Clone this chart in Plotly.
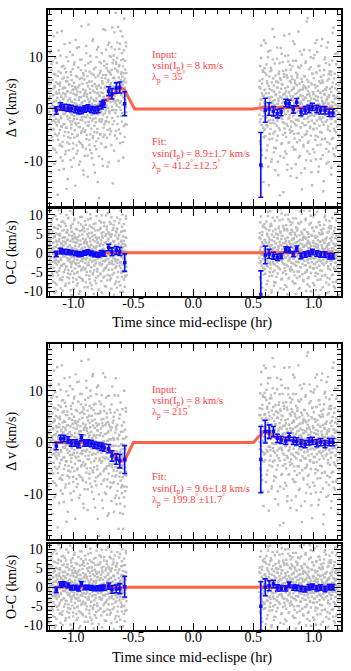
import numpy as np
import plotly.graph_objects as go

# ---- binned points (time in hr since mid-eclipse, velocities in km/s) ----
bin_t_pre = [-1.142, -1.105, -1.078, -1.044, -1.017, -0.983, -0.955, -0.933, -0.905, -0.878,
             -0.850, -0.822, -0.794, -0.767, -0.744, -0.705, -0.678, -0.642, -0.613, -0.572]
bin_t_post = [0.562, 0.599, 0.631, 0.667, 0.700, 0.731, 0.770, 0.798, 0.833, 0.861,
              0.897, 0.931, 0.964, 0.992, 1.028, 1.061, 1.097, 1.131, 1.162]

# case 1 (lambda = 35 deg)
dv1_pre = [-0.3, 0.5, 0.3, 0.2, 0.1, -0.1, -0.3, -0.3, 0.0, 0.2,
           -0.1, -0.25, -0.1, 0.7, 1.0, 3.4, 2.9, 4.0, 4.1, 1.0]
err1_pre = [0.7, 0.7, 0.6, 0.6, 0.6, 0.6, 0.6, 0.6, 0.6, 0.6,
            0.6, 0.6, 0.6, 0.7, 0.7, 0.85, 1.0, 1.0, 1.05, 2.3]
dv1_post = [-10.7, -0.25, 0.0, -0.45, -0.9, -0.6, 1.15, 1.0, -0.1, 1.3,
            -0.6, -0.25, 0.0, 0.4, 0.0, -0.25, -0.25, -0.75, -0.75]
err1_post = [6.2, 2.3, 1.2, 0.9, 0.8, 0.7, 0.7, 0.7, 0.7, 0.7,
             0.7, 0.7, 0.7, 0.7, 0.7, 0.7, 0.7, 0.7, 0.7]
model1_t = [-1.15, -0.85, -0.82, -0.79, -0.76, -0.73, -0.70, -0.67, -0.64, -0.61, -0.59, -0.575,
            -0.49, 0.49, 0.52, 0.55, 0.58, 0.65, 0.80, 1.00, 1.165]
model1_v = [0.0, 0.05, 0.2, 0.5, 0.9, 1.5, 2.1, 2.8, 3.4, 3.8, 3.9, 3.7,
            0.0, 0.0, 0.1, 0.2, 0.3, 0.3, 0.25, 0.2, 0.15]

# case 2 (lambda = 215 deg)
dv2_pre = [-0.7, 0.7, 0.8, 0.5, -0.1, -0.1, -0.4, 0.9, -0.1, -0.1,
           -0.2, -0.5, -0.6, -0.8, -1.0, -1.2, -2.6, -3.2, -3.6, -3.3]
err2_pre = [0.7, 0.7, 0.6, 0.6, 0.6, 0.6, 0.6, 0.6, 0.6, 0.6,
            0.6, 0.6, 0.6, 0.7, 0.7, 0.8, 1.0, 1.0, 1.3, 2.7]
dv2_post = [-3.3, 2.1, 2.1, 2.1, 0.8, 0.5, 0.3, 1.1, 0.3, 0.2,
            -0.13, -0.33, 0.2, 0.3, -0.13, 0.06, -0.33, 0.06, 0.06]
err2_post = [6.4, 2.2, 1.3, 1.0, 0.8, 0.7, 0.7, 0.7, 0.7, 0.7,
             0.7, 0.7, 0.7, 0.7, 0.7, 0.7, 0.7, 0.7, 0.7]
model2_t = [-1.15, -0.85, -0.82, -0.79, -0.76, -0.73, -0.70, -0.67, -0.64, -0.61, -0.59, -0.575,
            -0.50, 0.50, 0.53, 0.56, 0.58, 0.60, 0.63, 0.67, 0.72, 0.80, 0.90, 1.00, 1.165]
model2_v = [0.0, -0.05, -0.2, -0.4, -0.7, -1.1, -1.6, -2.2, -2.8, -3.3, -3.6, -3.6,
            0.0, 0.0, 0.8, 1.6, 2.0, 2.1, 1.7, 1.2, 0.8, 0.45, 0.25, 0.15, 0.05]

# ---- individual measurements: exposure times and two residual sets, grey cloud ----
gray_t_pre = [
    -1.214, -1.211, -1.210, -1.207, -1.205, -1.203, -1.200, -1.199, -1.196, -1.194, -1.192, -1.189, -1.188, -1.185, -1.183, -1.181, -1.178, -1.177, -1.174, -1.172,
    -1.170, -1.167, -1.166, -1.163, -1.161, -1.159, -1.156, -1.155, -1.152, -1.150, -1.148, -1.145, -1.144, -1.141, -1.139, -1.137, -1.134, -1.133, -1.130, -1.128,
    -1.126, -1.123, -1.122, -1.119, -1.117, -1.115, -1.112, -1.111, -1.108, -1.106, -1.104, -1.101, -1.100, -1.097, -1.095, -1.093, -1.090, -1.089, -1.086, -1.084,
    -1.082, -1.079, -1.078, -1.075, -1.073, -1.071, -1.068, -1.067, -1.064, -1.062, -1.060, -1.057, -1.056, -1.053, -1.051, -1.049, -1.046, -1.045, -1.042, -1.040,
    -1.038, -1.035, -1.034, -1.031, -1.029, -1.027, -1.024, -1.023, -1.020, -1.018, -1.016, -1.013, -1.012, -1.009, -1.007, -1.005, -1.002, -1.001, -0.998, -0.996,
    -0.994, -0.991, -0.990, -0.987, -0.985, -0.983, -0.980, -0.979, -0.976, -0.974, -0.972, -0.969, -0.968, -0.965, -0.963, -0.961, -0.958, -0.957, -0.954, -0.952,
    -0.950, -0.947, -0.946, -0.943, -0.941, -0.939, -0.936, -0.935, -0.932, -0.930, -0.928, -0.925, -0.924, -0.921, -0.919, -0.917, -0.914, -0.913, -0.910, -0.908,
    -0.906, -0.903, -0.902, -0.899, -0.897, -0.895, -0.892, -0.891, -0.888, -0.886, -0.884, -0.881, -0.880, -0.877, -0.875, -0.873, -0.870, -0.869, -0.866, -0.864,
    -0.862, -0.859, -0.858, -0.855, -0.853, -0.851, -0.848, -0.847, -0.844, -0.842, -0.840, -0.837, -0.836, -0.833, -0.831, -0.829, -0.826, -0.825, -0.822, -0.820,
    -0.818, -0.815, -0.814, -0.811, -0.809, -0.807, -0.804, -0.803, -0.800, -0.798, -0.796, -0.793, -0.792, -0.789, -0.787, -0.785, -0.782, -0.781, -0.778, -0.776,
    -0.774, -0.771, -0.770, -0.767, -0.765, -0.763, -0.760, -0.759, -0.756, -0.754, -0.752, -0.749, -0.748, -0.745, -0.743, -0.741, -0.738, -0.737, -0.734, -0.732,
    -0.730, -0.727, -0.726, -0.723, -0.721, -0.719, -0.716, -0.715, -0.712, -0.710, -0.708, -0.705, -0.704, -0.701, -0.699, -0.697, -0.694, -0.693, -0.690, -0.688,
    -0.686, -0.683, -0.682, -0.679, -0.677, -0.675, -0.672, -0.671, -0.668, -0.666, -0.664, -0.661, -0.660, -0.657, -0.655, -0.653, -0.650, -0.649, -0.646, -0.644,
    -0.642, -0.639, -0.638, -0.635, -0.633, -0.631, -0.628, -0.627, -0.624, -0.622, -0.620, -0.617, -0.616, -0.613, -0.611, -0.609, -0.606, -0.605, -0.602, -0.600,
    -0.598, -0.595, -0.594, -0.591, -0.589, -0.587, -0.584, -0.583, -0.580, -0.578, -0.576, -0.573, -0.572, -0.569, -0.567, -0.565, -0.562, -0.561, -0.558, -0.556]
gray_r_pre = [
    2.1, -4.3, 7.8, -0.6, 3.4, -9.2, 1.7, 5.5, -2.8, 0.4, -6.1, 11.3, -3.7, 4.9, -1.2, 8.6, -5.4, 0.9, -13.8, 2.6,
    -7.5, 3.9, -0.3, 6.7, -2.2, 1.4, -10.6, 4.2, -4.8, 9.7, 0.2, -1.9, 5.1, -8.3, 2.9, -3.1, 14.6, -0.8, 6.3, -5.9,
    1.1, -2.5, 7.2, -11.7, 3.6, 0.7, -4.0, 4.5, -6.8, 10.2, -1.5, 2.3, -3.3, 8.1, -0.1, -7.2, 5.8, -9.9, 1.9, 3.0,
    -2.9, 6.0, -5.1, 0.5, 12.4, -1.0, 4.0, -8.7, 2.4, -3.6, 7.0, -0.4, -15.3, 3.3, 5.3, -6.4, 1.6, -2.0, 9.1, -4.5,
    0.8, -7.9, 4.7, -1.7, 2.0, 10.9, -5.6, 3.1, -0.9, 6.5, -3.0, -11.1, 1.3, 4.4, -2.4, 7.6, -6.6, 0.0, 3.7, -9.4,
    5.0, -1.4, 8.9, -4.1, 1.8, -2.7, 13.2, -0.2, 3.8, -7.0, 2.7, -5.2, 6.1, -1.1, -8.0, 4.1, 0.6, -3.5, 11.8, -6.3,
    2.2, -0.7, 5.7, -10.1, 3.2, -2.1, 7.4, -4.6, 1.0, 9.4, -1.6, -6.9, 4.8, 0.3, -3.8, 6.8, -12.6, 2.5, -0.5, 5.6,
    -4.4, 1.5, 8.3, -2.6, 3.5, -7.7, 0.1, 10.6, -5.0, 2.8, -1.3, 6.2, -9.0, 4.3, -0.2, 16.1, -3.2, 1.2, -6.0, 7.1,
    -1.8, 3.0, -4.9, 9.0, -0.6, 2.1, -8.5, 5.2, -2.3, 0.9, 12.9, -5.7, 3.4, -1.0, 6.4, -10.8, 1.4, -3.4, 4.6, -7.3,
    0.5, 7.7, -2.0, 4.0, -6.5, 1.7, -0.8, 11.0, -4.2, 2.6, -14.4, 5.9, -1.5, 3.9, -9.6, 0.2, 8.4, -3.0, 1.9, -5.5,
    6.6, -1.1, 3.3, -7.4, 0.7, 9.8, -2.9, 4.4, -0.3, -11.9, 2.0, 5.4, -4.7, 1.1, 7.9, -6.2, 0.4, -2.2, 13.7, -3.9,
    2.8, -8.8, 4.9, -0.9, 6.9, -3.3, 1.6, -5.8, 10.4, -1.7, 3.6, -12.2, 0.8, 5.0, -2.5, 8.0, -7.1, 2.3, -0.1, 4.2,
    -6.7, 1.3, 9.3, -2.8, 0.0, -4.4, 6.0, -17.0, 3.1, -1.4, 7.3, -5.3, 2.9, 11.6, -0.6, -8.2, 4.5, -2.1, 1.0, 5.7,
    -3.6, 0.6, -9.1, 6.3, -1.9, 3.8, -5.0, 12.1, -0.4, 2.4, -7.6, 4.7, 0.3, -2.6, 8.7, -10.3, 1.8, -4.0, 5.5, -1.2,
    3.2, -6.3, 0.9, 10.0, -3.1, 4.3, -13.1, 1.5, -0.7, 7.5, -4.9, 2.2, -8.9, 5.8, -1.6, 0.1, 9.6, -2.7, 3.9, -5.9]
gray_r2_pre = [
    -3.2, 0.9, 6.1, -8.4, 1.8, 4.7, -0.5, -5.9, 10.8, 2.4, -1.6, 3.5, -12.1, 0.3, 7.4, -4.0, 1.2, -2.3, 5.6, 9.1,
    -6.0, 0.5, 2.7, -3.9, 13.9, -1.3, 4.4, -7.8, 0.0, 6.6, -2.6, 1.6, -10.0, 3.2, -0.7, 8.8, -5.1, 2.1, -16.4, 4.8,
    0.6, -2.1, 11.2, -4.7, 3.0, -0.2, -7.0, 5.0, 1.4, -9.3, 6.9, -1.8, 2.5, -3.4, 14.9, 0.7, -6.3, 3.9, -0.9, 8.2,
    1.9, -11.5, 4.1, -2.9, 0.2, 7.7, -4.4, 2.8, -0.6, -8.1, 5.3, 9.9, -3.6, 1.0, -1.4, 6.0, -13.4, 3.4, -5.4, 0.8,
    -0.4, 4.6, -6.7, 12.6, 2.0, -2.4, 0.1, -9.8, 7.1, -3.7, 1.5, 5.5, -1.1, -4.8, 3.6, 10.3, -7.6, 0.4, 2.9, -2.0,
    8.5, -5.5, 1.1, -0.3, 4.2, -14.7, 2.6, 6.3, -3.0, 0.9, -8.6, 11.7, -1.9, 3.3, -5.0, 0.0, 7.9, -2.7, 1.7, -10.7,
    4.5, -1.0, -3.5, 9.4, 0.7, -6.6, 2.2, -0.8, 15.8, -4.3, 5.9, -2.2, 1.3, -7.3, 3.7, -11.8, 6.4, 0.2, -1.5, 2.8,
    -9.0, 3.1, 0.5, -4.1, 7.3, -1.7, 12.0, -5.8, 2.3, -0.1, 4.9, -3.2, -13.0, 1.8, 8.7, -2.5, 0.6, 5.2, -6.9, 1.4,
    3.8, -7.9, 10.1, -0.6, 2.0, -3.8, 6.7, -1.2, -9.5, 4.3, 0.3, -5.3, 13.3, -2.0, 1.6, 7.5, -4.6, -0.5, 3.0, -12.4,
    0.1, 5.8, -2.8, 1.2, -8.0, 9.6, -0.9, 3.5, -4.9, 2.7, -1.3, 11.4, -6.1, 0.4, 4.0, -17.6, 1.9, -2.6, 6.2, -0.2,
    -5.6, 2.4, 8.0, -1.4, -3.3, 5.1, -10.5, 0.8, 3.9, -2.1, 14.2, -6.5, 1.0, -0.7, 7.0, -4.2, 2.6, -8.7, 0.5, 4.4,
    -1.8, 9.8, -3.9, 0.0, 6.1, -7.2, 1.7, -12.8, 3.3, 5.4, -0.4, -4.5, 2.1, 10.6, -2.9, 0.9, -6.0, 4.7, -1.0, 7.6,
    2.5, -9.4, 0.3, 4.9, -2.2, 12.9, -5.7, 1.5, -0.8, 6.5, -3.1, 3.0, -11.0, 0.6, 8.3, -1.6, -4.0, 2.0, 15.1, -7.5,
    5.3, -0.5, -2.7, 1.1, 9.2, -6.4, 3.6, -1.9, 0.2, -13.6, 4.5, 7.8, -3.4, 1.4, -0.3, -8.5, 11.1, -2.4, 2.9, -5.2,
    -0.9, 6.8, -4.7, 2.3, 0.7, -10.2, 5.7, -1.5, 3.1, -7.0, 13.6, -2.8, 0.5, 4.1, -6.2, 1.9, -0.6, 8.9, -3.6, 0.0]
gray_t_post = [
    0.550, 0.553, 0.554, 0.557, 0.559, 0.561, 0.564, 0.566, 0.568, 0.571, 0.573, 0.575, 0.578, 0.579, 0.582, 0.584, 0.586, 0.589, 0.591, 0.593,
    0.596, 0.598, 0.600, 0.603, 0.604, 0.607, 0.609, 0.611, 0.614, 0.616, 0.618, 0.621, 0.623, 0.625, 0.628, 0.629, 0.632, 0.634, 0.636, 0.639,
    0.641, 0.643, 0.646, 0.648, 0.650, 0.653, 0.654, 0.657, 0.659, 0.661, 0.664, 0.666, 0.668, 0.671, 0.673, 0.675, 0.678, 0.679, 0.682, 0.684,
    0.686, 0.689, 0.691, 0.693, 0.696, 0.698, 0.700, 0.703, 0.704, 0.707, 0.709, 0.711, 0.714, 0.716, 0.718, 0.721, 0.723, 0.725, 0.728, 0.729,
    0.732, 0.734, 0.736, 0.739, 0.741, 0.743, 0.746, 0.748, 0.750, 0.753, 0.754, 0.757, 0.759, 0.761, 0.764, 0.766, 0.768, 0.771, 0.773, 0.775,
    0.778, 0.779, 0.782, 0.784, 0.786, 0.789, 0.791, 0.793, 0.796, 0.798, 0.800, 0.803, 0.804, 0.807, 0.809, 0.811, 0.814, 0.816, 0.818, 0.821,
    0.823, 0.825, 0.828, 0.829, 0.832, 0.834, 0.836, 0.839, 0.841, 0.843, 0.846, 0.848, 0.850, 0.853, 0.854, 0.857, 0.859, 0.861, 0.864, 0.866,
    0.868, 0.871, 0.873, 0.875, 0.878, 0.879, 0.882, 0.884, 0.886, 0.889, 0.891, 0.893, 0.896, 0.898, 0.900, 0.903, 0.904, 0.907, 0.909, 0.911,
    0.914, 0.916, 0.918, 0.921, 0.923, 0.925, 0.928, 0.929, 0.932, 0.934, 0.936, 0.939, 0.941, 0.943, 0.946, 0.948, 0.950, 0.953, 0.954, 0.957,
    0.959, 0.961, 0.964, 0.966, 0.968, 0.971, 0.973, 0.975, 0.978, 0.979, 0.982, 0.984, 0.986, 0.989, 0.991, 0.993, 0.996, 0.998, 1.000, 1.003,
    1.004, 1.007, 1.009, 1.011, 1.014, 1.016, 1.018, 1.021, 1.023, 1.025, 1.028, 1.029, 1.032, 1.034, 1.036, 1.039, 1.041, 1.043, 1.046, 1.048,
    1.050, 1.053, 1.054, 1.057, 1.059, 1.061, 1.064, 1.066, 1.068, 1.071, 1.073, 1.075, 1.078, 1.079, 1.082, 1.084, 1.086, 1.089, 1.091, 1.093,
    1.096, 1.098, 1.100, 1.103, 1.104, 1.107, 1.109, 1.111, 1.114, 1.116, 1.118, 1.121, 1.123, 1.125, 1.128, 1.129, 1.132, 1.134, 1.136, 1.139,
    1.141, 1.143, 1.146, 1.148, 1.150, 1.153, 1.154, 1.157, 1.159, 1.161, 1.164, 1.166, 1.168, 1.171, 1.173, 1.175, 1.178, 1.179, 1.182, 1.184,
    1.186, 1.189, 1.191, 1.193, 1.196, 1.198, 1.200, 1.203, 1.204, 1.207, 1.209, 1.211, 1.214, 1.216, 1.218, 1.221, 1.223, 1.225, 1.228, 1.229]
gray_r_post = [
    -1.3, 5.2, -6.4, 0.8, 3.7, -2.2, 9.5, -8.1, 1.6, -0.5, 4.6, -11.4, 2.3, 7.1, -3.9, 0.2, -5.7, 12.8, -1.0, 3.3,
    -4.2, 6.6, 0.4, -9.7, 2.7, -1.8, 8.2, -3.4, 5.0, -0.1, -7.3, 1.9, 10.7, -2.6, 4.1, -14.9, 0.6, 3.5, -5.1, 6.9,
    1.2, -3.0, 7.6, -0.8, -10.4, 4.8, 2.0, -6.0, 0.3, 9.2, -2.4, 5.6, -1.5, -8.6, 3.0, 13.5, -4.6, 1.4, -0.2, 6.1,
    -7.8, 2.5, -1.1, 4.9, -3.5, 11.5, 0.7, -5.4, 3.8, -12.9, 1.7, 6.4, -2.0, 0.0, 8.5, -4.3, 2.1, -9.3, 5.3, -0.6,
    3.6, -1.9, 10.3, -6.8, 0.9, 4.4, -2.8, 7.0, -16.2, 1.1, -0.4, 5.9, -4.0, 2.6, -8.4, 9.9, -1.2, 3.1, -5.6, 0.5,
    6.2, -3.2, 1.5, -10.9, 4.0, -0.7, 8.8, -2.1, 2.9, -6.6, 14.1, -1.4, 5.1, -4.8, 0.1, 7.3, -3.7, 1.8, -11.6, 3.4,
    -0.3, 5.5, -7.5, 2.2, 9.0, -1.6, 3.9, -5.0, 0.6, 12.2, -3.1, 4.7, -8.0, 1.3, -2.3, 6.7, -0.9, -13.4, 2.8, 5.8,
    -4.9, 0.2, 7.8, -2.5, 3.2, -9.5, 1.0, 4.6, -6.2, 10.8, -0.5, 2.4, -3.8, 8.1, -1.7, 0.7, -15.6, 5.0, -2.9, 3.5,
    1.6, -7.1, 4.3, 11.1, -0.1, -3.3, 6.0, -5.2, 2.0, -1.0, 8.9, -10.0, 3.7, 0.4, -4.5, 5.4, -2.0, 17.2, -6.7, 1.3,
    -2.7, 4.1, -0.6, 7.4, -8.8, 2.3, -3.6, 0.9, 9.7, -5.3, 1.8, -12.3, 4.5, -1.3, 6.5, -0.2, 3.0, -7.9, 2.6, -4.1,
    5.7, -1.5, 10.1, -3.0, 0.3, -6.1, 3.9, -9.8, 1.5, 6.8, -2.4, 13.0, -0.8, 4.2, -5.5, 2.1, -1.1, 8.0, -11.2, 0.6,
    -3.4, 7.2, -0.7, 2.9, -7.0, 4.8, -2.2, 11.9, 0.0, -4.7, 1.4, 5.3, -9.0, 3.3, -1.8, 6.3, -14.0, 2.7, -0.4, 9.3,
    -5.8, 1.0, 3.6, -2.6, 8.6, -0.3, -10.6, 4.0, 1.7, -6.5, 2.2, 12.6, -3.5, 0.8, 5.6, -8.3, 2.5, -1.4, 7.0, -4.4,
    0.4, -2.1, 6.4, -12.7, 3.1, 0.1, -5.9, 9.1, -1.2, 4.9, -7.7, 1.1, 15.4, -3.9, 2.4, -0.9, 6.6, -9.2, 3.8, -2.5,
    1.9, -4.6, 8.4, -0.5, -7.2, 3.5, 10.5, -1.9, 0.5, -5.1, 4.4, -11.0, 2.0, 7.7, -3.2, 0.3, -6.9, 5.2, -1.6, 3.0]
gray_r2_post = [
    4.0, -2.7, 0.6, 8.0, -6.9, 1.5, -0.4, 11.9, -3.3, 2.8, -9.1, 5.4, 0.1, -1.7, 6.8, -14.3, 2.2, -4.4, 0.9, 7.5,
    -0.8, 3.4, -5.5, 12.3, 1.0, -2.0, 6.2, -8.2, 0.4, 4.6, -3.6, 9.6, -1.1, -11.3, 2.7, 0.0, 5.9, -6.1, 1.7, -2.4,
    10.9, -4.1, 2.0, -0.6, 7.1, -9.9, 3.3, -1.5, 0.8, 15.0, -5.0, 1.2, -2.9, 4.2, -7.7, 0.5, 8.4, -3.1, -12.0, 2.4,
    -1.4, 5.0, -0.2, -6.3, 3.8, 9.3, -2.5, 0.7, -10.4, 4.8, 1.3, -3.9, 6.9, -0.9, 2.9, -16.8, 5.6, -1.8, 0.2, 11.4,
    -7.0, 1.9, 4.5, -2.2, 0.3, 8.7, -5.2, 2.5, -0.7, -9.6, 6.4, 13.8, -3.0, 1.1, -4.8, 3.7, 0.0, -1.3, 7.2, -8.9,
    2.1, -0.1, -11.9, 5.8, -3.5, 1.6, 10.0, -6.7, 0.6, 3.0, -1.9, -4.2, 8.2, 2.3, -13.1, 0.4, 4.8, -2.6, 6.0, -0.5,
    -4.5, 7.9, 1.4, -2.8, 12.7, -0.3, 3.6, -8.0, 0.9, -5.9, 5.2, -1.0, 2.6, -10.8, 9.0, -3.4, 0.2, 4.3, -6.6, 1.8,
    6.3, -2.3, -0.6, 14.6, -4.9, 2.0, -1.6, 7.6, -9.2, 0.7, 3.4, -3.7, 1.1, -12.5, 5.5, -0.8, 10.2, -5.6, 2.2, -1.2,
    -0.4, 3.9, -7.4, 1.6, 6.1, -2.1, 0.3, -11.6, 4.0, 8.6, -3.3, 1.9, -0.6, -5.0, 16.5, 2.5, -8.3, 0.6, 3.2, -1.7,
    5.0, -6.4, 2.7, -0.9, 11.0, -3.8, 1.3, -1.5, 7.8, -10.1, 0.5, 4.7, -2.4, -14.8, 6.6, 0.1, -4.0, 2.9, 9.5, -0.2,
    -2.9, 1.7, -8.5, 4.4, 0.0, 12.4, -5.3, 2.3, -1.2, 6.7, -3.9, -0.5, 10.7, -7.1, 1.4, 3.3, -12.2, 0.8, -2.0, 5.1,
    8.1, -1.8, 0.4, -4.6, 3.0, -9.7, 6.0, -0.1, 2.0, -6.0, 13.2, -2.7, 1.0, 4.9, -15.9, 0.6, -3.2, 7.3, -0.8, 2.6,
    -5.9, 9.7, -1.4, 0.2, 3.5, -7.8, 1.5, 11.6, -2.3, -0.4, 5.3, -4.1, 0.9, -10.3, 6.5, 2.1, -1.6, 8.3, -6.8, 0.3,
    3.7, -0.7, -3.0, 7.0, -11.4, 1.2, 4.1, -2.0, 0.5, 14.4, -5.7, 2.4, -0.2, -8.8, 5.7, -1.1, 1.8, -4.3, 10.4, -2.6,
    0.7, -7.6, 4.6, -1.3, 2.2, 9.0, -3.5, 0.1, -13.7, 6.2, -0.9, 3.1, -5.4, 1.6, 12.1, -2.2, 0.4, -9.0, 4.9, -1.9]

# ---- labels ----
x_tickvals = [-1.0, -0.5, 0.0, 0.5, 1.0]
x_ticktext = ['-1.0', '-0.5', '0.0', '0.5', '1.0']
dv_tickvals = [-10, 0, 10]
dv_ticktext = ['-10', '0', '10']
oc_tickvals = [-10, -5, 0, 5, 10]
oc_ticktext = ['-10', '-5', '0', '5', '10']
x_title = 'Time since mid-eclispe (hr)'
dv_title = 'Δ v (km/s)'
oc_title = 'O-C (km/s)'
notes1 = ['Input:', 'vsin(I<sub>p</sub>) = 8 km/s', 'λ<sub>p</sub> = 35<sup>°</sup>',
          'Fit:', 'vsin(I<sub>p</sub>) = 8.9±1.7 km/s', 'λ<sub>p</sub> = 41.2<sup>°</sup>±12.5<sup>°</sup>']
notes2 = ['Input:', 'vsin(I<sub>p</sub>) = 8 km/s', 'λ<sub>p</sub> = 215<sup>°</sup>',
          'Fit:', 'vsin(I<sub>p</sub>) = 9.6±1.8 km/s', 'λ<sub>p</sub> = 199.8<sup>°</sup>±11.7<sup>°</sup>']

W, H = 351, 671
FONT = 'Liberation Serif, Times New Roman, serif'
GRAY = '#bdbdbd'
RED = '#ff6347'
TXTRED = '#ff4040'
BLUE = '#0a0aff'

gray_t = np.array(gray_t_pre + gray_t_post + gray_t_pre + gray_t_post)
gray_r = np.array(gray_r_pre + gray_r_post + gray_r2_pre + gray_r2_post)
bin_t = np.array(bin_t_pre + bin_t_post)

cases = [
    dict(dv=dv1_pre + dv1_post, err=err1_pre + err1_post, mt=model1_t, mv=model1_v, notes=notes1),
    dict(dv=dv2_pre + dv2_post, err=err2_pre + err2_post, mt=model2_t, mv=model2_v, notes=notes2),
]

fig = go.Figure()
layout = dict(width=W, height=H, margin=dict(l=0, r=0, t=0, b=0),
              paper_bgcolor='white', plot_bgcolor='white', showlegend=False)
annotations = []

xdom = [47.5 / W, 341 / W]
# pixel extents of each panel: dv top, dv bottom, o-c top, o-c bottom
panels = [(8, 206, 209, 296), (345, 541, 546, 633)]


def pdom(top, bot):
    return [1 - bot / H, 1 - top / H]


def axis_common():
    return dict(ticks='inside', tickcolor='black', tickwidth=1.3, showline=True, linewidth=2,
                linecolor='black', mirror='allticks', showgrid=False, zeroline=False,
                tickfont=dict(family=FONT, size=14, color='black'))


def minor(step):
    return dict(ticks='inside', dtick=step, tick0=0, ticklen=4, tickwidth=1.3,
                tickcolor='black', showgrid=False)


for k, c in enumerate(cases):
    ia = 2 * k + 1
    ib = 2 * k + 2
    xa, ya = ('x' if ia == 1 else f'x{ia}'), ('y' if ia == 1 else f'y{ia}')
    xb, yb = f'x{ib}', f'y{ib}'
    mt = np.array(c['mt'])
    mv = np.array(c['mv'])
    dv = np.array(c['dv'])
    model_at_gray = np.interp(gray_t, mt, mv)
    model_at_bin = np.interp(bin_t, mt, mv)

    # delta-v panel
    fig.add_trace(go.Scatter(x=gray_t, y=gray_r + model_at_gray, mode='markers',
                             marker=dict(symbol='square', size=2.4, color=GRAY),
                             xaxis=xa, yaxis=ya))
    fig.add_trace(go.Scatter(x=mt, y=mv, mode='lines', line=dict(color=RED, width=3),
                             xaxis=xa, yaxis=ya))
    fig.add_trace(go.Scatter(x=bin_t, y=dv, mode='markers',
                             marker=dict(symbol='square', size=3.5, color=BLUE),
                             error_y=dict(type='data', array=c['err'], color=BLUE, thickness=1.6, width=2.5),
                             xaxis=xa, yaxis=ya))
    # residual panel
    fig.add_trace(go.Scatter(x=gray_t, y=gray_r, mode='markers',
                             marker=dict(symbol='square', size=2.4, color=GRAY),
                             xaxis=xb, yaxis=yb))
    fig.add_trace(go.Scatter(x=[mt[0], mt[-1]], y=[0, 0], mode='lines', line=dict(color=RED, width=3),
                             xaxis=xb, yaxis=yb))
    fig.add_trace(go.Scatter(x=bin_t, y=dv - model_at_bin, mode='markers',
                             marker=dict(symbol='square', size=3.5, color=BLUE),
                             error_y=dict(type='data', array=c['err'], color=BLUE, thickness=1.6, width=2.5),
                             xaxis=xb, yaxis=yb))

    ta, ba, tb, bb = panels[k]
    layout['xaxis' if ia == 1 else f'xaxis{ia}'] = dict(
        axis_common(), domain=xdom, range=[-1.215, 1.23], anchor=ya, tickvals=x_tickvals,
        ticktext=x_ticktext, showticklabels=False, ticklen=7, minor=minor(0.1))
    layout['yaxis' if ia == 1 else f'yaxis{ia}'] = dict(
        axis_common(), domain=pdom(ta, ba), range=[-18.65, 18.95], anchor=xa, tickvals=dv_tickvals,
        ticktext=dv_ticktext, ticklen=8, minor=minor(1))
    layout[f'xaxis{ib}'] = dict(
        axis_common(), domain=xdom, range=[-1.215, 1.23], anchor=yb, tickvals=x_tickvals,
        ticktext=x_ticktext, ticklen=7, minor=minor(0.1), ticklabelstandoff=-7)
    layout[f'yaxis{ib}'] = dict(
        axis_common(), domain=pdom(tb, bb), range=[-11.25, 11.35], anchor=xb, tickvals=oc_tickvals,
        ticktext=oc_ticktext, ticklen=7, minor=minor(1))

    # axis titles
    annotations.append(dict(text=dv_title, xref='paper', yref='paper', x=12 / W, y=1 - (ta + ba) / 2 / H,
                            textangle=-90, showarrow=False, xanchor='center', yanchor='middle',
                            font=dict(family=FONT, size=14, color='black')))
    annotations.append(dict(text=oc_title, xref='paper', yref='paper', x=12 / W, y=1 - (tb + bb) / 2 / H,
                            textangle=-90, showarrow=False, xanchor='center', yanchor='middle',
                            font=dict(family=FONT, size=14, color='black')))
    annotations.append(dict(text=x_title, xref='paper', yref='paper', x=192 / W, y=1 - (bb + 27) / H,
                            showarrow=False, xanchor='center', yanchor='middle',
                            font=dict(family=FONT, size=14.5, color='black')))
    # parameter notes
    offsets = [45, 57, 68, 133, 146, 157]
    for line, off in zip(c['notes'], offsets):
        annotations.append(dict(text=line, xref='paper', yref='paper', x=150 / W, y=1 - (ta + off) / H,
                                showarrow=False, xanchor='left', yanchor='middle',
                                font=dict(family=FONT, size=10.5, color=TXTRED)))

layout['annotations'] = annotations
fig.update_layout(**layout)
# drop the default 8px page margin so the figure fills the window
fig.write_html("out.html", config={'displayModeBar': False},
               post_script="document.body.style.margin='0';")
